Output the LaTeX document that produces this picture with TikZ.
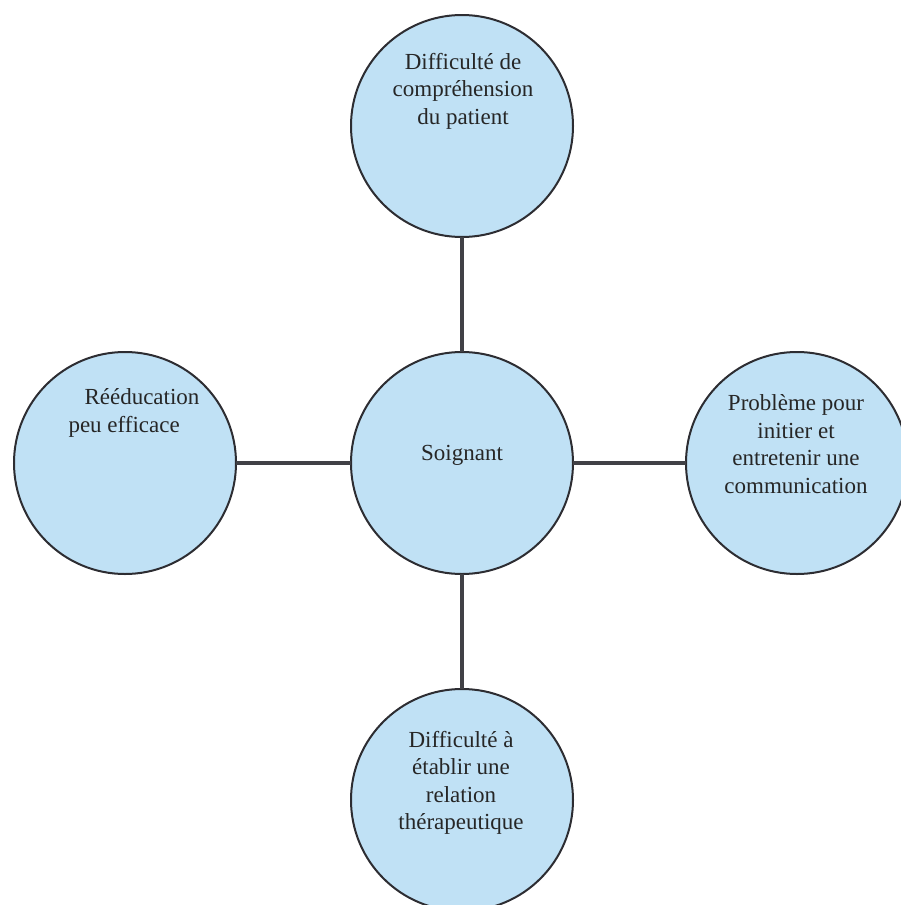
\documentclass[tikz,border=0pt]{standalone}
\usepackage{fontspec}
\setmainfont{Liberation Serif}
\definecolor{bubble}{RGB}{192,225,245}
\definecolor{rim}{RGB}{45,45,50}
\definecolor{link}{RGB}{65,65,70}
\begin{document}
\begin{tikzpicture}[x=1pt,y=-1pt,
  bubblenode/.style={circle,draw=rim,line width=2pt,fill=bubble,minimum size=222pt,inner sep=0pt,outer sep=0pt},
  label/.style={inner sep=0pt,align=center,text=black!85,font=\fontsize{23}{27.5}\selectfont},
  linkline/.style={draw=link,line width=4pt}]
\useasboundingbox[fill=white] (0,0) rectangle (900,905);
\node[bubblenode] (top) at (462,126) {};
\node[bubblenode] (ctr) at (462,463) {};
\node[bubblenode] (left) at (125,463) {};
\node[bubblenode] (right) at (797,463) {};
\node[bubblenode] (bot) at (462,800) {};
\draw[linkline] (top) -- (ctr);
\draw[linkline] (left) -- (ctr);
\draw[linkline] (ctr) -- (right);
\draw[linkline] (ctr) -- (bot);
\node[label] (ttop) at (463,91) {Difficulté de\\compréhension\\du patient};
\node[label,align=left] (tleft) at (134,413) {\hspace{16pt}Rééducation\\peu efficace};
\node[label] (tright) at (796,444) {Problème pour\\initier et\\entretenir une\\communication};
\node[label] (tbot) at (461,783) {Difficulté à\\établir une\\relation\\thérapeutique};
\node[label] (tctr) at (462,455) {Soignant};
\end{tikzpicture}
\end{document}
